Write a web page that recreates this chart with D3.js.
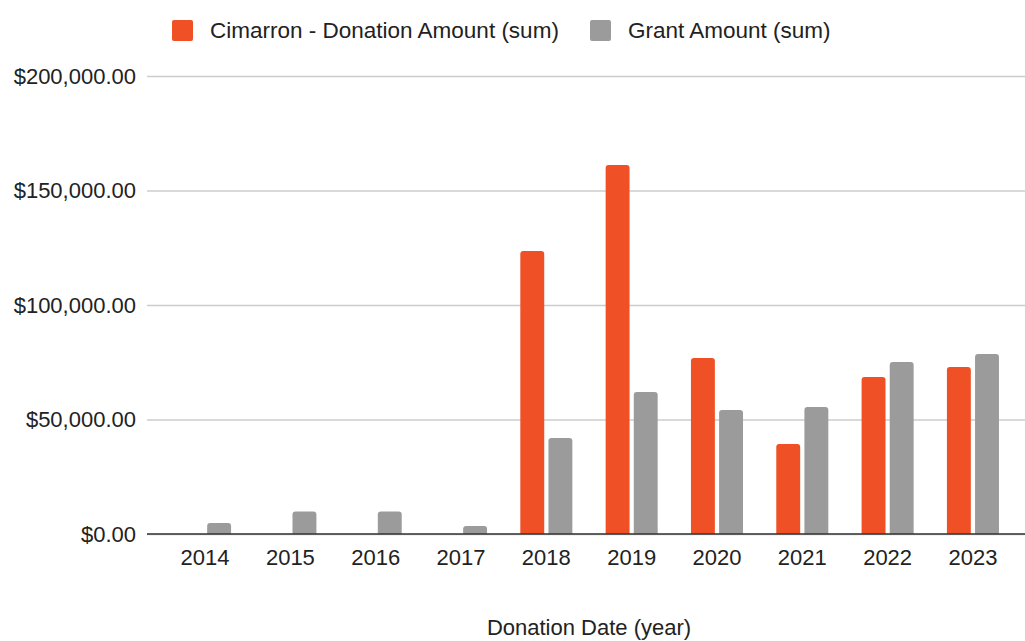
<!DOCTYPE html>
<html>
<head>
<meta charset="utf-8">
<script src="https://cdn.jsdelivr.net/npm/d3@7"></script>
<style>
  body { margin: 0; background: #fff; }
  text { font-family: "Liberation Sans", Arial, sans-serif; fill: #222; }
</style>
</head>
<body>
<div id="viz"></div>
<script>
(function() {

var years = ["2014", "2015", "2016", "2017", "2018", "2019", "2020", "2021", "2022", "2023"];
var seriesNames = ["Cimarron - Donation Amount (sum)", "Grant Amount (sum)"];
var donation = [0, 0, 0, 0, 123600, 161100, 76900, 39300, 68600, 72900];
var grant = [4800, 9800, 9800, 3500, 41900, 62000, 54100, 55500, 75100, 78600];
var yTicks = [0, 50000, 100000, 150000, 200000];
var colors = ["#ef5026", "#9b9b9b"];

var width = 1025, height = 641;
var left = 147, right = 1025, top = 76, bottom = 534;

var svg = d3.select("#viz")
    .append("svg")
    .attr("width", width)
    .attr("height", height);

var x0 = d3.scaleBand()
    .domain(years)
    .range([162.4, 1015.6])
    .paddingInner(0.39)
    .paddingOuter(0.195);

var x1 = d3.scaleBand()
    .domain([0, 1])
    .range([0, x0.bandwidth()])
    .paddingInner(0.15);

var y = d3.scaleLinear()
    .domain([0, 200000])
    .range([bottom, top]);

var money = d3.format("$,.2f");

// gridlines + y labels
var yAxis = d3.axisLeft(y)
    .tickValues(yTicks)
    .tickSize(-(right - left))
    .tickPadding(10)
    .tickFormat(money);

var gy = svg.append("g")
    .attr("transform", "translate(" + left + ",0)")
    .call(yAxis);
gy.select(".domain").remove();
gy.selectAll(".tick line").attr("stroke", "#cccccc").attr("stroke-width", 1.5);
gy.selectAll(".tick text")
    .attr("x", -11)
    .style("font-size", "22px")
    .attr("fill", "#222");

// bars
function barPath(x, w, yTop, yBase) {
    var r = Math.min(3, (yBase - yTop) / 2, w / 2);
    if (yBase - yTop <= 0) return "";
    return "M" + x + "," + yBase +
        "V" + (yTop + r) +
        "Q" + x + "," + yTop + " " + (x + r) + "," + yTop +
        "H" + (x + w - r) +
        "Q" + (x + w) + "," + yTop + " " + (x + w) + "," + (yTop + r) +
        "V" + yBase + "Z";
}

var rows = years.map(function(yr, i) {
    return { year: yr, values: [donation[i], grant[i]] };
});

svg.append("g")
    .selectAll("g")
    .data(rows)
    .enter().append("g")
    .attr("transform", function(d) { return "translate(" + x0(d.year) + ",0)"; })
    .selectAll("path")
    .data(function(d) { return d.values.map(function(v, k) { return { k: k, v: v }; }); })
    .enter().append("path")
    .attr("fill", function(d) { return colors[d.k]; })
    .attr("d", function(d) {
        return barPath(x1(d.k), x1.bandwidth(), y(d.v), y(0));
    });

// x axis
var xAxis = d3.axisBottom(x0).tickSize(0).tickPadding(15);
var gx = svg.append("g")
    .attr("transform", "translate(0," + bottom + ")")
    .call(xAxis);
gx.select(".domain").remove();
gx.selectAll(".tick text").style("font-size", "22px").attr("fill", "#222");

svg.append("line")
    .attr("x1", left).attr("x2", right)
    .attr("y1", bottom).attr("y2", bottom)
    .attr("stroke", "#333").attr("stroke-width", 1.5);

// axis title
svg.append("text")
    .attr("x", 589)
    .attr("y", 635)
    .attr("text-anchor", "middle")
    .style("font-size", "22px")
    .text("Donation Date (year)");

// legend
var legendX = [172, 590];
var lg = svg.append("g")
    .selectAll("g")
    .data(seriesNames)
    .enter().append("g")
    .attr("transform", function(d, i) { return "translate(" + legendX[i] + ",20)"; });

lg.append("rect")
    .attr("width", 21).attr("height", 21)
    .attr("rx", 2)
    .attr("fill", function(d, i) { return colors[i]; });

lg.append("text")
    .attr("x", 38)
    .attr("y", 18)
    .style("font-size", "22.5px")
    .text(function(d) { return d; });

})();
</script>
</body>
</html>
